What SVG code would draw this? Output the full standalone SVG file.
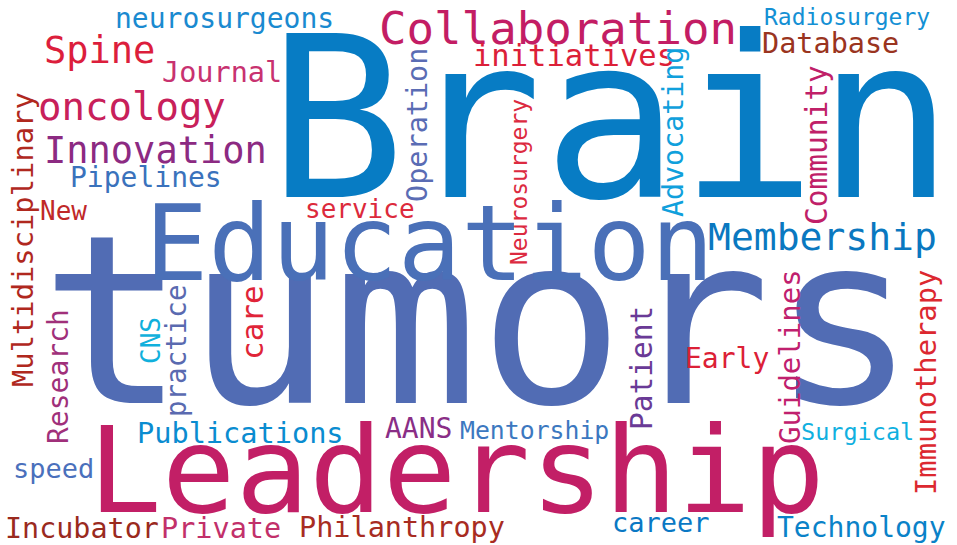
<svg xmlns="http://www.w3.org/2000/svg" width="957" height="545" viewBox="0 0 957 545">
<style>
text{font-family:"DejaVu Sans Mono","Liberation Mono",monospace;}
</style>
<rect width="957" height="545" fill="#ffffff"/>
<text id="w-brain" x="268" y="197" font-size="225" fill="#077cc4" textLength="686" lengthAdjust="spacingAndGlyphs">Brain</text>
<text id="w-tumors" x="40" y="403" font-size="235" fill="#516cb4" textLength="877" lengthAdjust="spacingAndGlyphs">tumors</text>
<text id="w-education" x="145" y="280" font-size="105" fill="#4a70b8">Education</text>
<text id="w-leadership" x="88" y="512" font-size="120" fill="#c21f66" textLength="737" lengthAdjust="spacingAndGlyphs">Leadership</text>
<text id="w-collaboration" x="379" y="44" font-size="45" fill="#c31d64" textLength="358" lengthAdjust="spacingAndGlyphs">Collaboration</text>
<text id="w-neurosurgeons" x="115" y="28" font-size="28" fill="#1a8ad0">neurosurgeons</text>
<text id="w-spine" x="44" y="63" font-size="37" fill="#dc1e3c">Spine</text>
<text id="w-journal" x="162" y="82" font-size="28.5" fill="#c83270">Journal</text>
<text id="w-oncology" x="38" y="120" font-size="39" fill="#c8205a">oncology</text>
<text id="w-innovation" x="44" y="163" font-size="37" fill="#8c2a82">Innovation</text>
<text id="w-pipelines" x="70" y="187" font-size="28" fill="#3a72bc">Pipelines</text>
<text id="w-initiatives" x="473" y="66" font-size="30.5" fill="#dc2038">initiatives</text>
<text id="w-radiosurgery" x="764" y="25" font-size="23" fill="#1490d4">Radiosurgery</text>
<text id="w-database" x="762" y="53" font-size="28.5" fill="#9a3420">Database</text>
<text id="w-membership" x="708" y="250" font-size="38" fill="#0a78c0">Membership</text>
<text id="w-new" x="40" y="220" font-size="26" fill="#c02828">New</text>
<text id="w-service" x="305" y="218" font-size="26" fill="#dc2a3c">service</text>
<text id="w-early" x="685" y="368" font-size="28" fill="#dc2036">Early</text>
<text id="w-publications" x="137" y="443" font-size="28.6" fill="#0a8cd0">Publications</text>
<text id="w-aans" x="385" y="438" font-size="28" fill="#8a2e86">AANS</text>
<text id="w-mentorship" x="460" y="439" font-size="24.8" fill="#3c78c0">Mentorship</text>
<text id="w-surgical" x="801" y="440" font-size="23.5" fill="#10b0e0">Surgical</text>
<text id="w-speed" x="13" y="478" font-size="27" fill="#4a70bc">speed</text>
<text id="w-incubator" x="5" y="538" font-size="28.4" fill="#9a2a1e">Incubator</text>
<text id="w-private" x="161" y="538" font-size="28.5" fill="#c2306a">Private</text>
<text id="w-philanthropy" x="299" y="537" font-size="28.5" fill="#a82c22">Philanthropy</text>
<text id="w-career" x="612" y="532" font-size="27" fill="#0a78c4">career</text>
<text id="w-technology" x="777" y="537" font-size="28" fill="#0a82c8">Technology</text>
<text id="w-multidisciplinary" transform="translate(33,387) rotate(-90)" font-size="28.8" fill="#b0281e">Multidisciplinary</text>
<text id="w-research" transform="translate(68,444) rotate(-90)" font-size="28" fill="#a0307a">Research</text>
<text id="w-cns" transform="translate(160,364) rotate(-90)" font-size="26" fill="#10b0dc">CNS</text>
<text id="w-practice" transform="translate(186,417) rotate(-90)" font-size="27.5" fill="#5a6ab0">practice</text>
<text id="w-care" transform="translate(263,360) rotate(-90)" font-size="31" fill="#e02438">care</text>
<text id="w-operation" transform="translate(427,202) rotate(-90)" font-size="28.5" fill="#5a6cb4">Operation</text>
<text id="w-neurosurgery" transform="translate(527,265) rotate(-90)" font-size="23" fill="#dc2a40">Neurosurgery</text>
<text id="w-advocating" transform="translate(683,217) rotate(-90)" font-size="28.3" fill="#10a0dc">Advocating</text>
<text id="w-community" transform="translate(827,225) rotate(-90)" font-size="29.5" fill="#c02068">Community</text>
<text id="w-patient" transform="translate(652,430) rotate(-90)" font-size="29.5" fill="#6a3a96">Patient</text>
<text id="w-guidelines" transform="translate(800,444) rotate(-90)" font-size="29" fill="#c0206e">Guidelines</text>
<text id="w-immunotherapy" transform="translate(936,495) rotate(-90)" font-size="28.8" fill="#dc2830">Immunotherapy</text>
</svg>
